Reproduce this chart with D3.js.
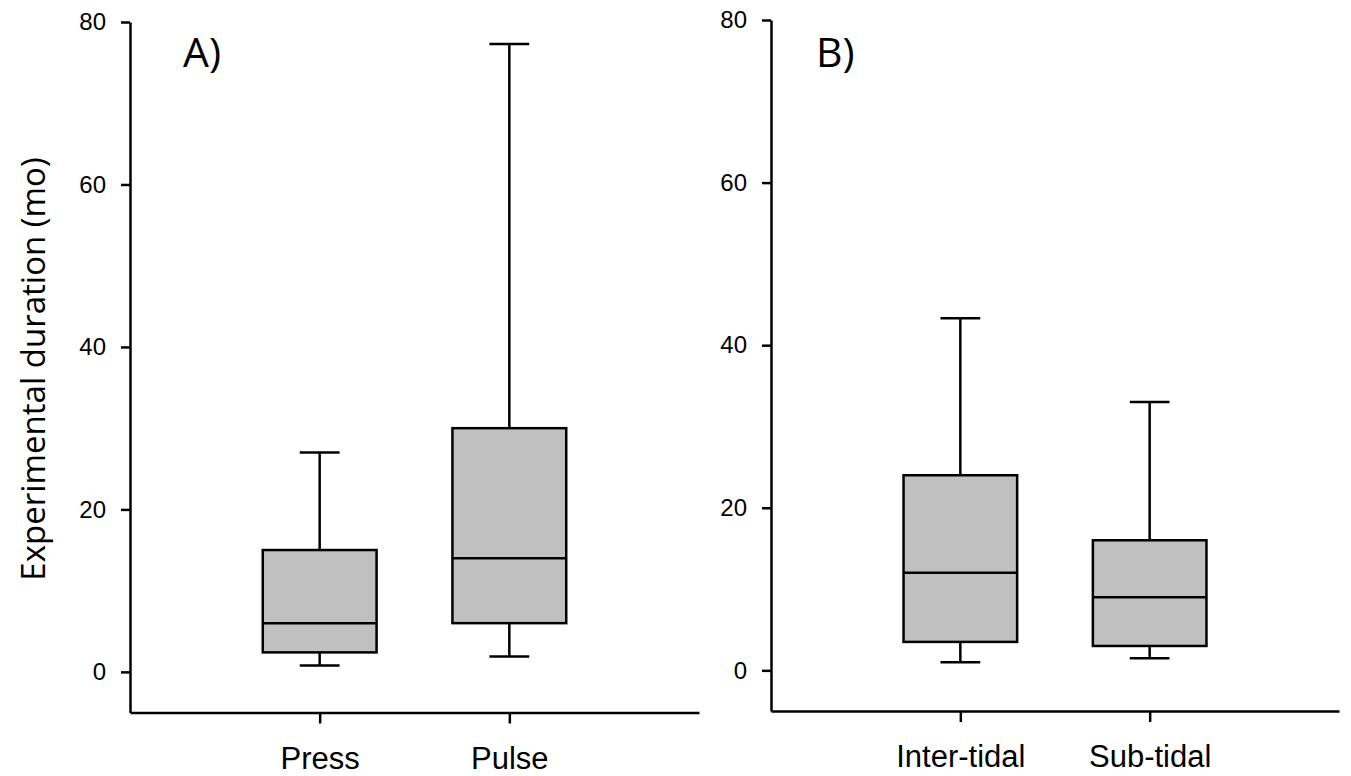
<!DOCTYPE html>
<html>
<head>
<meta charset="utf-8">
<script src="https://cdn.jsdelivr.net/npm/d3@7"></script>
<style>
  body { margin: 0; background: #fff; }
  svg { display: block; }
  .tick text { font-family: "Liberation Sans", Arial, sans-serif; fill: #000; }
</style>
</head>
<body>
<svg id="chart"></svg>
<script>
// panel A: press vs pulse
const catsA = ["Press", "Pulse"];
const lowA = [0.8, 1.9];
const q1A = [2.4, 6];
const medA = [6, 14];
const q3A = [15, 30];
const highA = [27, 77.3];

// panel B: inter-tidal vs sub-tidal
const catsB = ["Inter-tidal", "Sub-tidal"];
const lowB = [1, 1.5];
const q1B = [3.5, 3];
const medB = [12, 9];
const q3B = [24, 16];
const highB = [43.3, 33];

const yTicks = [0, 20, 40, 60, 80];

const W = 1351, H = 776;
const LW = 2.5;
const svg = d3.select('#chart').attr('width', W).attr('height', H);

function drawPanel(p) {
  const x = d3.scaleLinear().domain([0, 3]).range([p.left, p.right]);
  const y = d3.scaleLinear().domain([-5, 80]).range([p.bottom, p.top]);
  const g = svg.append('g');

  const boxes = p.cats.map((c, i) => ({
    cat: c, pos: i + 1, lo: p.low[i], q1: p.q1[i], med: p.med[i], q3: p.q3[i], hi: p.high[i]
  }));
  const bw = 0.6, cw = 0.21;

  const b = g.selectAll('g.box').data(boxes).join('g').attr('class', 'box');
  // whiskers
  b.append('line')
    .attr('x1', d => x(d.pos)).attr('x2', d => x(d.pos))
    .attr('y1', d => y(d.q3)).attr('y2', d => y(d.hi))
    .attr('stroke', '#000').attr('stroke-width', LW);
  b.append('line')
    .attr('x1', d => x(d.pos)).attr('x2', d => x(d.pos))
    .attr('y1', d => y(d.q1)).attr('y2', d => y(d.lo))
    .attr('stroke', '#000').attr('stroke-width', LW);
  // caps
  b.append('line')
    .attr('x1', d => x(d.pos - cw / 2)).attr('x2', d => x(d.pos + cw / 2))
    .attr('y1', d => y(d.hi)).attr('y2', d => y(d.hi))
    .attr('stroke', '#000').attr('stroke-width', LW);
  b.append('line')
    .attr('x1', d => x(d.pos - cw / 2)).attr('x2', d => x(d.pos + cw / 2))
    .attr('y1', d => y(d.lo)).attr('y2', d => y(d.lo))
    .attr('stroke', '#000').attr('stroke-width', LW);
  // box
  b.append('rect')
    .attr('x', d => x(d.pos - bw / 2))
    .attr('width', d => x(d.pos + bw / 2) - x(d.pos - bw / 2))
    .attr('y', d => y(d.q3))
    .attr('height', d => y(d.q1) - y(d.q3))
    .attr('fill', '#c0c0c0').attr('stroke', '#000').attr('stroke-width', LW);
  // median
  b.append('line')
    .attr('x1', d => x(d.pos - bw / 2)).attr('x2', d => x(d.pos + bw / 2))
    .attr('y1', d => y(d.med)).attr('y2', d => y(d.med))
    .attr('stroke', '#000').attr('stroke-width', LW);

  const yAxis = g.append('g')
    .attr('transform', `translate(${p.left},0)`)
    .call(d3.axisLeft(y).tickValues(yTicks).tickSize(9).tickSizeOuter(0).tickPadding(15));
  yAxis.selectAll('text').style('font-size', '24px');

  const xAxis = g.append('g')
    .attr('transform', `translate(0,${p.bottom})`)
    .call(d3.axisBottom(x).tickValues([1, 2]).tickFormat(i => p.cats[i - 1])
      .tickSize(11).tickSizeOuter(0).tickPadding(23));
  xAxis.selectAll('text').style('font-size', '31px');

  g.selectAll('.domain, .tick line').attr('stroke', '#000').attr('stroke-width', LW);

  g.append('text')
    .attr('x', p.labelX).attr('y', 67)
    .style('font-family', '"Open Sans", sans-serif')
    .style('font-size', '41px')
    .text(p.label);
}

drawPanel({ cats: catsA, low: lowA, q1: q1A, med: medA, q3: q3A, high: highA,
  left: 130, right: 699, top: 22, bottom: 712.5, label: 'A)', labelX: 183 });
drawPanel({ cats: catsB, low: lowB, q1: q1B, med: medB, q3: q3B, high: highB,
  left: 771, right: 1339, top: 20, bottom: 711, label: 'B)', labelX: 816 });

svg.append('text')
  .attr('transform', 'translate(45,369) rotate(-90)')
  .attr('text-anchor', 'middle')
  .style('font-family', '"Open Sans", sans-serif')
  .style('font-size', '33px')
  .text('Experimental duration (mo)');
</script>
</body>
</html>
